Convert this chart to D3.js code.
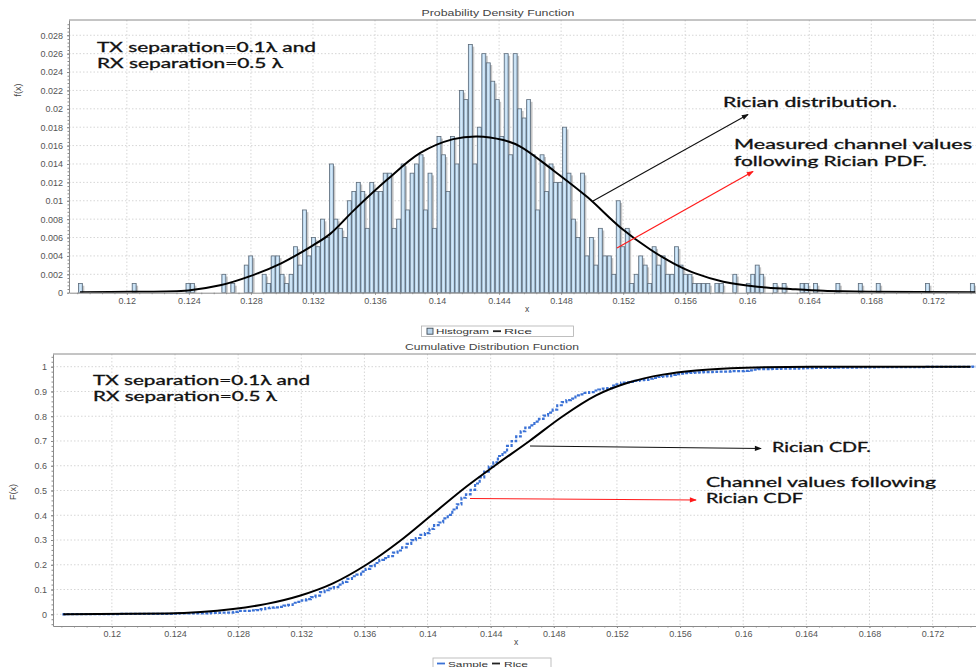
<!DOCTYPE html>
<html>
<head>
<meta charset="utf-8">
<script src="https://cdn.jsdelivr.net/npm/d3@7"></script>
<style>
  html, body { margin: 0; padding: 0; background: #fff; }
  svg { display: block; }
  text { font-family: "Liberation Sans", Arial, sans-serif; }
  .note { font-family: Lato, "Open Sans", sans-serif; fill: #111; stroke: #111; stroke-width: 0.3; font-size: 12.5px; }
  .tick text { fill: #555; font-size: 9px; }
</style>
</head>
<body>
<svg id="chart" width="976" height="667"></svg>
<script>
// ---- Histogram of measured channel values (counts per bin, 1000 samples) ----
const sampleSize = 1000;
const histMin = 0.11686;
const histBinWidth = 0.000289;
const histCounts = [
  1,0,0,0,0,0,0,0,0,0,  0,0,1,0,0,0,0,0,0,0,          // 0-19
  0,0,0,0,1,1,0,0,0,0,  0,0,2,0,1,0,0,3,4,0,          // 20-39
  0,2,1,4,4,2,1,2,5,3,  9,4,6,5,8,6,14,8,7,6,         // 40-59
  10,11,12,11,7,12,11,11,13,13,  7,8,14,9,13,14,15,9,13,7,   // 60-79
  17,15,11,17,14,22,21,27,14,18, 26,25,23,21,17,26,15,26,20,19, // 80-99
  21,15,9,15,11,14,12,12,18,13,  8,6,13,4,6,3,7,4,4,2,         // 100-119
  10,5,7,1,2,4,3,1,5,3,  4,2,2,5,3,2,2,1,1,1,          // 120-139
  1,0,1,1,0,0,2,0,0,1,  2,3,2,0,0,1,0,1,0,0,          // 140-159
  0,1,1,0,1,0,0,0,0,1,  0,0,0,0,1,0,0,0,1,0,          // 160-179
  0,0,0,0,0,0,0,0,0,1,  0,0,0,0,0,0,0,0,0,1           // 180-199
];

// ---- Fitted Rice PDF (x, f(x)) ----
const ricePdfX = [0.11698,0.12021,0.12395,0.12601,0.12795,0.12995,0.13195,0.13311,0.1346,0.13679,
                  0.13892,0.14104,0.14259,0.14427,0.14537,0.1475,0.14969,0.15182,0.15375,0.15524,
                  0.15666,0.15846,0.16066,0.16279,0.16492,0.16795,0.1747];
const ricePdfY = [0.00005,0.0001,0.00025,0.0008,0.0018,0.0032,0.0051,0.0064,0.0089,0.0123,
                  0.0152,0.0167,0.0170,0.0166,0.0159,0.0133,0.0104,0.0071,0.0047,0.0032,
                  0.0021,0.0012,0.00065,0.0004,0.0002,0.0001,0.00005];

// ---- Fitted Rice CDF (x, F(x)) ----
const riceCdfX = [0.11692,0.12347,0.12768,0.1298,0.1319,0.13401,0.13612,0.13823,0.14034,0.14245,
                  0.1443,0.14646,0.14857,0.15068,0.15279,0.1549,0.15701,0.16017,0.16437,0.17441];
const riceCdfY = [0,0.003,0.021,0.042,0.075,0.125,0.200,0.295,0.405,0.515,
                  0.602,0.700,0.800,0.884,0.937,0.968,0.985,0.996,1.0,1.0];

// ---- Axis ticks ----
const xTickValues = [0.12,0.124,0.128,0.132,0.136,0.14,0.144,0.148,0.152,0.156,0.16,0.164,0.168,0.172];
const xTickLabels = ["0.12","0.124","0.128","0.132","0.136","0.14","0.144","0.148","0.152","0.156","0.16","0.164","0.168","0.172"];
const pdfYTickValues = [0,0.002,0.004,0.006,0.008,0.01,0.012,0.014,0.016,0.018,0.02,0.022,0.024,0.026,0.028];
const pdfYTickLabels = ["0","0.002","0.004","0.006","0.008","0.01","0.012","0.014","0.016","0.018","0.02","0.022","0.024","0.026","0.028"];
const cdfYTickValues = [0,0.1,0.2,0.3,0.4,0.5,0.6,0.7,0.8,0.9,1];
const cdfYTickLabels = ["0","0.1","0.2","0.3","0.4","0.5","0.6","0.7","0.8","0.9","1"];

const svg = d3.select("#chart");
const defs = svg.append("defs");

// bar gradient (light centre, darker edges)
const grad = defs.append("linearGradient").attr("id", "barGrad").attr("x1", "0").attr("x2", "1").attr("y1", "0").attr("y2", "0");
grad.append("stop").attr("offset", "0%").attr("stop-color", "#9cc0e0");
grad.append("stop").attr("offset", "45%").attr("stop-color", "#d9edfb");
grad.append("stop").attr("offset", "100%").attr("stop-color", "#a8c8e4");

// arrowheads
function arrowMarker(id, color) {
  defs.append("marker").attr("id", id)
    .attr("viewBox", "0 -4 8 8").attr("refX", 7).attr("refY", 0)
    .attr("markerUnits", "userSpaceOnUse").attr("markerWidth", 8).attr("markerHeight", 7)
    .attr("orient", "auto")
    .append("path").attr("d", "M0,-3L8,0L0,3Z").attr("fill", color);
}
arrowMarker("arrBlack", "#111");
arrowMarker("arrRed", "#ff1a1a");

const xDomain = [0.11627, 0.17475];

function note(x, y, len, str) {
  svg.append("text").attr("class", "note").attr("x", x).attr("y", y)
    .attr("textLength", len).attr("lengthAdjust", "spacingAndGlyphs").text(str);
}
function smallText(x, y, len, size, str, anchor) {
  const t = svg.append("text").attr("x", x).attr("y", y).attr("font-size", size).attr("fill", "#444")
    .attr("text-anchor", anchor || "start").text(str);
  if (len) t.attr("textLength", len).attr("lengthAdjust", "spacingAndGlyphs");
  return t;
}

// ================= Probability Density Function =================
const pdfBox = { left: 69, right: 976, top: 20, bottom: 292.7 };
const xPdf = d3.scaleLinear().domain(xDomain).range([pdfBox.left, pdfBox.right]);
const yPdf = d3.scaleLinear().domain([0, 0.02966]).range([pdfBox.bottom, pdfBox.top]);

defs.append("clipPath").attr("id", "clipPdf").append("rect")
  .attr("x", pdfBox.left).attr("y", pdfBox.top)
  .attr("width", pdfBox.right - pdfBox.left).attr("height", pdfBox.bottom - pdfBox.top);

const gPdf = svg.append("g");

// grid
gPdf.append("g").selectAll("line").data(xTickValues).join("line")
  .attr("x1", d => xPdf(d)).attr("x2", d => xPdf(d))
  .attr("y1", pdfBox.top).attr("y2", pdfBox.bottom)
  .attr("stroke", "#d6d6d6").attr("stroke-width", 1).attr("stroke-dasharray", "1.5,2");
gPdf.append("g").selectAll("line").data(pdfYTickValues.slice(1)).join("line")
  .attr("x1", pdfBox.left).attr("x2", pdfBox.right)
  .attr("y1", d => yPdf(d)).attr("y2", d => yPdf(d))
  .attr("stroke", "#d6d6d6").attr("stroke-width", 1).attr("stroke-dasharray", "1.5,2");

// histogram bars with shadows
const bins = histCounts.map((c, i) => ({
  x0: histMin + i * histBinWidth,
  x1: histMin + (i + 1) * histBinWidth,
  f: c / sampleSize
})).filter(b => b.f > 0);

const gBars = gPdf.append("g").attr("clip-path", "url(#clipPdf)");
gBars.selectAll("rect.shadow").data(bins).join("rect").attr("class", "shadow")
  .attr("x", d => xPdf(d.x0) + 2.2)
  .attr("y", d => yPdf(d.f) + 2.2)
  .attr("width", d => xPdf(d.x1) - xPdf(d.x0) - 0.5)
  .attr("height", d => yPdf(0) - yPdf(d.f))
  .attr("fill", "#c6c6c6");
gBars.selectAll("rect.bar").data(bins).join("rect").attr("class", "bar")
  .attr("x", d => xPdf(d.x0) + 0.25)
  .attr("y", d => yPdf(d.f))
  .attr("width", d => xPdf(d.x1) - xPdf(d.x0) - 0.5)
  .attr("height", d => yPdf(0) - yPdf(d.f))
  .attr("fill", "url(#barGrad)")
  .attr("stroke", "#5d6b79").attr("stroke-width", 0.8);

// fitted Rice PDF
const pdfPts = ricePdfX.map((x, i) => [x, ricePdfY[i]]);
gPdf.append("path").datum(pdfPts)
  .attr("clip-path", "url(#clipPdf)")
  .attr("d", d3.line().x(d => xPdf(d[0])).y(d => yPdf(d[1])).curve(d3.curveCatmullRom.alpha(0.5)))
  .attr("fill", "none").attr("stroke", "#000").attr("stroke-width", 2);

// axes
gPdf.append("g").attr("transform", `translate(0,${pdfBox.bottom})`)
  .call(d3.axisBottom(xPdf).tickValues(xTickValues).tickFormat((d, i) => xTickLabels[i]).tickSize(2).tickPadding(3).tickSizeOuter(0));
gPdf.append("g").attr("transform", `translate(0,${pdfBox.bottom})`)
  .call(d3.axisBottom(xPdf).tickValues(d3.range(0.1168, 0.1748, 0.0008)).tickFormat("").tickSize(1.5).tickSizeOuter(0))
  .select(".domain").remove();
gPdf.append("g").attr("transform", `translate(${pdfBox.left},0)`)
  .call(d3.axisLeft(yPdf).tickValues(pdfYTickValues).tickFormat((d, i) => pdfYTickLabels[i]).tickSize(2).tickPadding(4).tickSizeOuter(0));
gPdf.append("g").attr("transform", `translate(${pdfBox.left},0)`)
  .call(d3.axisLeft(yPdf).tickValues(d3.range(0, 0.0296, 0.0004)).tickFormat("").tickSize(1.5).tickSizeOuter(0))
  .select(".domain").remove();
gPdf.selectAll(".domain").attr("stroke", "#8a8a8a");
gPdf.selectAll(".tick line").attr("stroke", "#8a8a8a");
gPdf.append("line").attr("x1", pdfBox.left).attr("x2", pdfBox.right).attr("y1", pdfBox.top).attr("y2", pdfBox.top)
  .attr("stroke", "#8a8a8a").attr("stroke-width", 1);

// titles & axis labels
smallText(421.5, 16, 153, 9, "Probability Density Function");
smallText(527, 312, null, 8.5, "x", "middle");
svg.append("text").attr("transform", "translate(21,90) rotate(-90)").attr("text-anchor", "middle")
  .attr("font-size", 9).attr("fill", "#444").text("f(x)");

// legend
const lg1 = svg.append("g");
lg1.append("rect").attr("x", 421.5).attr("y", 326).attr("width", 152).attr("height", 10.5)
  .attr("fill", "#fff").attr("stroke", "#b0b0b0").attr("stroke-width", 0.8);
lg1.append("rect").attr("x", 427).attr("y", 328.2).attr("width", 6).attr("height", 6)
  .attr("fill", "#bcd6ec").attr("stroke", "#3f4a55").attr("stroke-width", 0.9);
lg1.append("text").attr("x", 436).attr("y", 334.3).attr("font-size", 8).attr("fill", "#333")
  .attr("textLength", 53).attr("lengthAdjust", "spacingAndGlyphs").text("Histogram");
lg1.append("line").attr("x1", 493).attr("x2", 501).attr("y1", 331.2).attr("y2", 331.2)
  .attr("stroke", "#222").attr("stroke-width", 1.8);
lg1.append("text").attr("x", 504).attr("y", 334.3).attr("font-size", 8).attr("fill", "#333")
  .attr("textLength", 28).attr("lengthAdjust", "spacingAndGlyphs").text("Rice");

// annotations
note(97, 52.3, 219, "TX separation=0.1λ and");
note(97, 67.5, 186, "RX separation=0.5 λ");
note(723, 106.5, 174, "Rician distribution.");
note(734, 148.5, 238, "Measured channel values");
note(734, 165.5, 193, "following Rician PDF.");

svg.append("line").attr("x1", 593).attr("y1", 201).attr("x2", 748).attr("y2", 114.5)
  .attr("stroke", "#111").attr("stroke-width", 1.1).attr("marker-end", "url(#arrBlack)");
svg.append("line").attr("x1", 617).attr("y1", 248).attr("x2", 753).attr("y2", 171.5)
  .attr("stroke", "#ff1a1a").attr("stroke-width", 1.2).attr("marker-end", "url(#arrRed)");

// ================= Cumulative Distribution Function =================
const cdfBox = { left: 53, right: 976, top: 354, bottom: 626 };
const xCdf = d3.scaleLinear().domain(xDomain).range([cdfBox.left, cdfBox.right]);
const yCdf = d3.scaleLinear().domain([-0.0473, 1.0513]).range([cdfBox.bottom, cdfBox.top]);

defs.append("clipPath").attr("id", "clipCdf").append("rect")
  .attr("x", cdfBox.left).attr("y", cdfBox.top)
  .attr("width", cdfBox.right - cdfBox.left).attr("height", cdfBox.bottom - cdfBox.top);

const gCdf = svg.append("g");
gCdf.append("g").selectAll("line").data(xTickValues).join("line")
  .attr("x1", d => xCdf(d)).attr("x2", d => xCdf(d))
  .attr("y1", cdfBox.top).attr("y2", cdfBox.bottom)
  .attr("stroke", "#d6d6d6").attr("stroke-width", 1).attr("stroke-dasharray", "1.5,2");
gCdf.append("g").selectAll("line").data(cdfYTickValues).join("line")
  .attr("x1", cdfBox.left).attr("x2", cdfBox.right)
  .attr("y1", d => yCdf(d)).attr("y2", d => yCdf(d))
  .attr("stroke", "#d6d6d6").attr("stroke-width", 1).attr("stroke-dasharray", "1.5,2");

// empirical CDF of the same samples (running total of the histogram)
const totalCount = d3.sum(histCounts);
const cum = d3.cumsum(histCounts);
const ecdfPts = [[histMin, 0]].concat(histCounts.map((c, i) => [histMin + (i + 0.5) * histBinWidth, cum[i] / totalCount]));
ecdfPts.push([xDomain[1], 1]);
gCdf.append("path").datum(ecdfPts)
  .attr("clip-path", "url(#clipCdf)")
  .attr("d", d3.line().x(d => xCdf(d[0])).y(d => yCdf(d[1])).curve(d3.curveStepAfter))
  .attr("fill", "none").attr("stroke", "#3b72d6").attr("stroke-width", 2.2)
  .attr("stroke-dasharray", "3,1.5");

// fitted Rice CDF
const cdfPts = riceCdfX.map((x, i) => [x, riceCdfY[i]]);
gCdf.append("path").datum(cdfPts)
  .attr("clip-path", "url(#clipCdf)")
  .attr("d", d3.line().x(d => xCdf(d[0])).y(d => yCdf(d[1])).curve(d3.curveMonotoneX))
  .attr("fill", "none").attr("stroke", "#000").attr("stroke-width", 2);

gCdf.append("g").attr("transform", `translate(0,${cdfBox.bottom})`)
  .call(d3.axisBottom(xCdf).tickValues(xTickValues).tickFormat((d, i) => xTickLabels[i]).tickSize(2).tickPadding(3).tickSizeOuter(0));
gCdf.append("g").attr("transform", `translate(0,${cdfBox.bottom})`)
  .call(d3.axisBottom(xCdf).tickValues(d3.range(0.1168, 0.1748, 0.0008)).tickFormat("").tickSize(1.5).tickSizeOuter(0))
  .select(".domain").remove();
gCdf.append("g").attr("transform", `translate(${cdfBox.left},0)`)
  .call(d3.axisLeft(yCdf).tickValues(cdfYTickValues).tickFormat((d, i) => cdfYTickLabels[i]).tickSize(2).tickPadding(4).tickSizeOuter(0));
gCdf.append("g").attr("transform", `translate(${cdfBox.left},0)`)
  .call(d3.axisLeft(yCdf).tickValues(d3.range(-0.04, 1.05, 0.02)).tickFormat("").tickSize(1.5).tickSizeOuter(0))
  .select(".domain").remove();
gCdf.selectAll(".domain").attr("stroke", "#8a8a8a");
gCdf.selectAll(".tick line").attr("stroke", "#8a8a8a");
gCdf.append("line").attr("x1", cdfBox.left).attr("x2", cdfBox.right).attr("y1", cdfBox.top).attr("y2", cdfBox.top)
  .attr("stroke", "#8a8a8a").attr("stroke-width", 1);

smallText(405, 349.5, 174, 9, "Cumulative Distribution Function");
smallText(516, 645, null, 8.5, "x", "middle");
svg.append("text").attr("transform", "translate(16,492) rotate(-90)").attr("text-anchor", "middle")
  .attr("font-size", 9).attr("fill", "#444").text("F(x)");

// legend (bottom)
const lg2 = svg.append("g");
lg2.append("rect").attr("x", 433).attr("y", 658).attr("width", 118).attr("height", 14)
  .attr("fill", "#fff").attr("stroke", "#b0b0b0").attr("stroke-width", 0.8);
lg2.append("line").attr("x1", 437).attr("x2", 445).attr("y1", 663.5).attr("y2", 663.5)
  .attr("stroke", "#3b72d6").attr("stroke-width", 1.8);
lg2.append("text").attr("x", 448).attr("y", 666.5).attr("font-size", 8).attr("fill", "#333")
  .attr("textLength", 40).attr("lengthAdjust", "spacingAndGlyphs").text("Sample");
lg2.append("line").attr("x1", 492).attr("x2", 500).attr("y1", 663.5).attr("y2", 663.5)
  .attr("stroke", "#222").attr("stroke-width", 1.8);
lg2.append("text").attr("x", 504).attr("y", 666.5).attr("font-size", 8).attr("fill", "#333")
  .attr("textLength", 24).attr("lengthAdjust", "spacingAndGlyphs").text("Rice");

// annotations
note(93, 385, 217, "TX separation=0.1λ and");
note(93, 400.5, 184, "RX separation=0.5 λ");
note(772, 451.5, 99, "Rician CDF.");
note(706, 486.5, 230, "Channel values following");
note(706, 503, 97, "Rician CDF");

svg.append("line").attr("x1", 530).attr("y1", 446).attr("x2", 761).attr("y2", 448.5)
  .attr("stroke", "#111").attr("stroke-width", 1.1).attr("marker-end", "url(#arrBlack)");
svg.append("line").attr("x1", 470).attr("y1", 498.5).attr("x2", 696).attr("y2", 500)
  .attr("stroke", "#ff1a1a").attr("stroke-width", 1.2).attr("marker-end", "url(#arrRed)");
</script>
</body>
</html>
